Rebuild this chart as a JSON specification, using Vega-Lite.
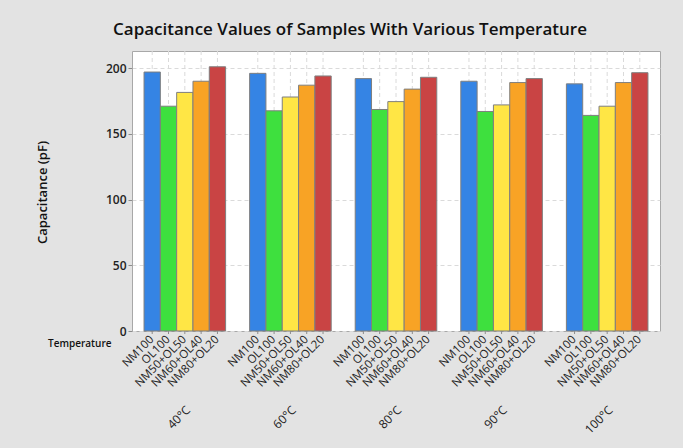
{
  "$schema": "https://vega.github.io/schema/vega-lite/v6.json",
  "width": 528,
  "height": 280,
  "autosize": {"type": "none"},
  "padding": {"left": 132, "top": 51, "right": 23, "bottom": 117},
  "background": "#e3e3e3",
  "title": {
    "text": "Capacitance Values of Samples With Various Temperature",
    "font": "Open Sans",
    "fontSize": 17,
    "fontWeight": 600,
    "color": "#111111",
    "anchor": "middle",
    "dx": -46,
    "offset": 12
  },
  "config": {
    "view": {"stroke": "#a8a8a8", "fill": "white", "strokeWidth": 1}
  },
  "data": {
    "values": [
      {"Temperature": "40°C", "Sample": "NM100", "Capacitance": 197},
      {"Temperature": "40°C", "Sample": "OL100", "Capacitance": 171},
      {"Temperature": "40°C", "Sample": "NM50+OL50", "Capacitance": 181.5},
      {"Temperature": "40°C", "Sample": "NM60+OL40", "Capacitance": 190},
      {"Temperature": "40°C", "Sample": "NM80+OL20", "Capacitance": 201},
      {"Temperature": "60°C", "Sample": "NM100", "Capacitance": 196},
      {"Temperature": "60°C", "Sample": "OL100", "Capacitance": 167.5},
      {"Temperature": "60°C", "Sample": "NM50+OL50", "Capacitance": 178},
      {"Temperature": "60°C", "Sample": "NM60+OL40", "Capacitance": 187},
      {"Temperature": "60°C", "Sample": "NM80+OL20", "Capacitance": 194},
      {"Temperature": "80°C", "Sample": "NM100", "Capacitance": 192},
      {"Temperature": "80°C", "Sample": "OL100", "Capacitance": 168.5},
      {"Temperature": "80°C", "Sample": "NM50+OL50", "Capacitance": 174.5},
      {"Temperature": "80°C", "Sample": "NM60+OL40", "Capacitance": 184},
      {"Temperature": "80°C", "Sample": "NM80+OL20", "Capacitance": 193},
      {"Temperature": "90°C", "Sample": "NM100", "Capacitance": 190},
      {"Temperature": "90°C", "Sample": "OL100", "Capacitance": 167},
      {"Temperature": "90°C", "Sample": "NM50+OL50", "Capacitance": 172},
      {"Temperature": "90°C", "Sample": "NM60+OL40", "Capacitance": 189},
      {"Temperature": "90°C", "Sample": "NM80+OL20", "Capacitance": 192},
      {"Temperature": "100°C", "Sample": "NM100", "Capacitance": 188},
      {"Temperature": "100°C", "Sample": "OL100", "Capacitance": 164},
      {"Temperature": "100°C", "Sample": "NM50+OL50", "Capacitance": 171},
      {"Temperature": "100°C", "Sample": "NM60+OL40", "Capacitance": 189},
      {"Temperature": "100°C", "Sample": "NM80+OL20", "Capacitance": 196.5}
    ]
  },
  "encoding": {
    "x": {
      "field": "Temperature",
      "type": "nominal",
      "sort": ["40°C", "60°C", "80°C", "90°C", "100°C"],
      "scale": {"paddingInner": 0.2275, "paddingOuter": 0.114},
      "axis": {
        "title": "Temperature",
        "titleX": -21,
        "titleY": 12,
        "titleAlign": "right",
        "titleAngle": 0,
        "titleBaseline": "middle",
        "titleFont": "Open Sans",
        "titleFontSize": 10,
        "titleFontWeight": 600,
        "titleColor": "#111111",
        "labelAngle": -45,
        "labelPadding": 73,
        "labelFont": "Open Sans",
        "labelFontSize": 12,
        "labelColor": "#222222",
        "ticks": false,
        "domain": false,
        "grid": false
      }
    },
    "xOffset": {
      "field": "Sample",
      "type": "nominal",
      "sort": ["NM100", "OL100", "NM50+OL50", "NM60+OL40", "NM80+OL20"],
      "scale": {"paddingInner": 0, "paddingOuter": 0}
    }
  },
  "layer": [
    {
      "mark": {"type": "rule", "strokeDash": [4, 3], "color": "#dadada", "strokeWidth": 1},
      "encoding": {}
    },
    {
      "mark": {"type": "bar", "stroke": "#7f7f7f", "strokeWidth": 1},
      "encoding": {
        "y": {
          "field": "Capacitance",
          "type": "quantitative",
          "scale": {"domain": [0, 213], "nice": false},
          "axis": {
            "title": "Capacitance (pF)",
            "values": [0, 50, 100, 150, 200],
            "titleX": -90,
            "titleY": 141,
            "titleAngle": -90,
            "titleAlign": "center",
            "titleBaseline": "middle",
            "titleFont": "Open Sans",
            "titleFontSize": 13,
            "titleFontWeight": 600,
            "titleColor": "#111111",
            "labelFont": "Open Sans",
            "labelFontSize": 12,
            "labelFontWeight": 600,
            "labelColor": "#222222",
            "labelPadding": 2,
            "tickColor": "#8c8c8c",
            "tickSize": 4,
            "domain": false,
            "grid": true,
            "gridDash": [4, 3],
            "gridColor": "#dadada"
          }
        },
        "color": {
          "field": "Sample",
          "type": "nominal",
          "legend": null,
          "scale": {
            "domain": ["NM100", "OL100", "NM50+OL50", "NM60+OL40", "NM80+OL20"],
            "range": ["#3584e4", "#3ee03e", "#ffe645", "#f8a325", "#c94444"]
          }
        }
      }
    },
    {
      "mark": {"type": "point", "shape": "M0,0V1", "filled": false, "size": 36, "stroke": "#8c8c8c", "strokeWidth": 1, "opacity": 1},
      "encoding": {"y": {"datum": 0}}
    },
    {
      "mark": {"type": "text", "angle": 315, "align": "right", "baseline": "middle", "dx": -5, "dy": 5, "font": "Open Sans", "fontSize": 11.5, "color": "#222222"},
      "encoding": {"y": {"datum": 0}, "text": {"field": "Sample"}}
    }
  ]
}
